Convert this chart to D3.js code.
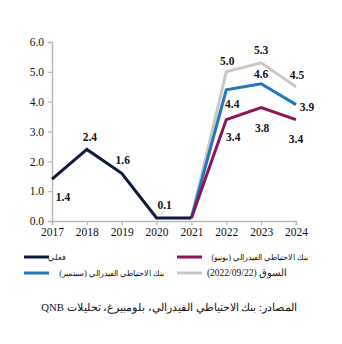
<!DOCTYPE html>
<html>
<head>
<meta charset="utf-8">
<script src="https://cdn.jsdelivr.net/npm/d3@7"></script>
<style>
  body { margin: 0; background: #fff; }
  svg text { font-family: "Liberation Serif", "Times New Roman", serif; }
</style>
</head>
<body>
<div id="chart"></div>
<script>
// data
const years = [2017, 2018, 2019, 2020, 2021, 2022, 2023, 2024];
const yTicks = [0, 1, 2, 3, 4, 5, 6];

const actualYears = [2017, 2018, 2019, 2020, 2021];
const actual = [1.4, 2.4, 1.6, 0.1, 0.1];

const forecastYears = [2021, 2022, 2023, 2024];
const fedJune = [0.1, 3.4, 3.8, 3.4];
const fedSept = [0.1, 4.4, 4.6, 3.9];
const market = [0.1, 5.0, 5.3, 4.5];

const seriesNames = ["فعلي", "بنك الاحتياطي الفيدرالي (يونيو)", "بنك الاحتياطي الفيدرالي (سبتمبر)", "السوق (2022/09/22)"];
const sourceText = "المصادر: بنك الاحتياطي الفيدرالي، بلومبيرغ، تحليلات QNB";

// label placement per point: [dx, dy] relative to the point, null = no label
const actualLabelPos = [[11, 18], [3, -12], [1, -13], [8, -13], null];
const juneLabelPos = [null, [7, 17], [1, 20], [0, 19]];
const septLabelPos = [null, [6, 14], [0, -10], [11, 2]];
const marketLabelPos = [null, [1, -11], [0, -13], [1, -12]];

const width = 342, height = 344;
const margin = { top: 42, left: 52, right: 46, bottom: 123 };

const svg = d3.select("#chart").append("svg")
  .attr("width", width)
  .attr("height", height);

const x = d3.scalePoint().domain(years).range([margin.left, width - margin.right]);
const y = d3.scaleLinear().domain([0, 6]).range([height - margin.bottom, margin.top]);

const axisColor = "#b8b8b8";

// y axis
const yAxis = svg.append("g")
  .attr("transform", `translate(${margin.left},0)`)
  .call(d3.axisLeft(y).tickValues(yTicks).tickFormat(d3.format(".1f")).tickSize(4).tickPadding(4));
// x axis
const xAxis = svg.append("g")
  .attr("transform", `translate(0,${y(0)})`)
  .call(d3.axisBottom(x).tickSize(4).tickPadding(3).tickFormat(d3.format("d")));

[yAxis, xAxis].forEach(ax => {
  ax.select(".domain").attr("stroke", axisColor).attr("stroke-width", 1.5);
  ax.selectAll(".tick line").attr("stroke", axisColor).attr("stroke-width", 1.2);
  ax.selectAll(".tick text")
    .attr("fill", "#111")
    .style("font-family", '"Liberation Serif", serif')
    .style("font-size", "11.5px");
});

const line = d3.line()
  .x(d => x(d.year))
  .y(d => y(d.value));

const series = [
  { name: seriesNames[0], color: "#0e1a3c", years: actualYears, values: actual, labels: actualLabelPos },
  { name: seriesNames[1], color: "#8b1459", years: forecastYears, values: fedJune, labels: juneLabelPos },
  { name: seriesNames[2], color: "#2176c2", years: forecastYears, values: fedSept, labels: septLabelPos },
  { name: seriesNames[3], color: "#cec5c0", years: forecastYears, values: market, labels: marketLabelPos }
];

// draw back to front: market, sept, june, actual
[3, 2, 1, 0].forEach(i => {
  const s = series[i];
  const pts = s.years.map((yr, j) => ({ year: yr, value: s.values[j] }));
  svg.append("path")
    .datum(pts)
    .attr("d", line)
    .attr("fill", "none")
    .attr("stroke", s.color)
    .attr("stroke-width", 3);
});

// data labels
series.forEach(s => {
  s.years.forEach((yr, j) => {
    const pos = s.labels[j];
    if (!pos) return;
    svg.append("text")
      .attr("x", x(yr) + pos[0])
      .attr("y", y(s.values[j]) + pos[1])
      .attr("text-anchor", "middle")
      .attr("dominant-baseline", "central")
      .attr("fill", "#111")
      .style("font-size", "11.5px")
      .style("font-weight", "bold")
      .text(d3.format(".1f")(s.values[j]));
  });
});

// faint leader for 2020 label
svg.append("line")
  .attr("x1", x(2020) + 2).attr("y1", y(0.1) - 2)
  .attr("x2", x(2020) + 8).attr("y2", y(0.1) - 7)
  .attr("stroke", "#c8c8c8").attr("stroke-width", 0.8);

// shrink arabic text until it fills the given width
function fitText(sel, w, maxSize) {
  sel.style("font-size", maxSize + "px");
  const len = sel.node().getComputedTextLength();
  if (len > w) sel.style("font-size", (maxSize * w / len) + "px");
}

// legend
const legendItems = [
  { s: series[0], swatchX: 24, textRight: 66, textW: 16, y: 257 },
  { s: series[1], swatchX: 177, textRight: 308, textW: 101, y: 257 },
  { s: series[2], swatchX: 24, textRight: 164, textW: 110, y: 273 },
  { s: series[3], swatchX: 177, textRight: 287, textW: 79, y: 273 }
];
const legend = svg.append("g");
legendItems.forEach(it => {
  legend.append("line")
    .attr("x1", it.swatchX).attr("x2", it.swatchX + 25)
    .attr("y1", it.y).attr("y2", it.y)
    .attr("stroke", it.s.color)
    .attr("stroke-width", 3);
  const t = legend.append("text")
    .attr("x", it.textRight)
    .attr("y", it.y)
    .attr("direction", "rtl")
    .attr("text-anchor", "start")
    .attr("dominant-baseline", "central")
    .attr("fill", "#111")
    .text(it.s.name);
  fitText(t, it.textW, 11);
});

// source
const src = svg.append("text")
  .attr("x", 297)
  .attr("y", 307)
  .attr("direction", "rtl")
  .attr("text-anchor", "start")
  .attr("dominant-baseline", "central")
  .attr("fill", "#111")
  .text(sourceText);
fitText(src, 255, 12);
</script>
</body>
</html>
